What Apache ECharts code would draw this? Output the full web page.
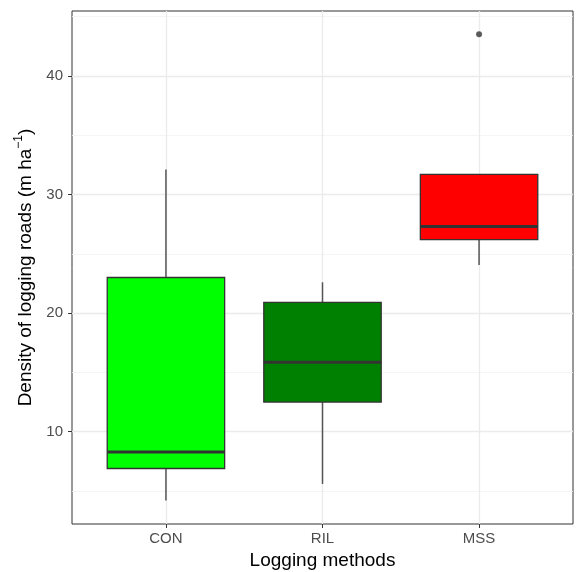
<!DOCTYPE html>
<html><head><meta charset="utf-8">
<script src="https://cdn.jsdelivr.net/npm/echarts@6/dist/echarts.min.js"></script>
<style>html,body{margin:0;padding:0;background:#fff}#c{width:581px;height:572px}</style>
</head><body><div id="c"></div>
<script>
const categories = ['CON', 'RIL', 'MSS'];
const fills = ['#00FF00', '#008000', '#FF0000'];
// [low whisker, Q1, median, Q3, high whisker]
const CON = [4.2, 6.9, 8.3, 23.0, 32.1];
const RIL = [5.6, 12.5, 15.85, 20.9, 22.6];
const MSS = [24.05, 26.2, 27.3, 31.7, 31.7];
const outliers = [[3, 43.5]];
const yMajorTicks = [10, 20, 30, 40];
const yMinorTicks = [5, 15, 25, 35, 45];
const xTicks = [1, 2, 3];

const boxes = [CON, RIL, MSS].map((b, i) => [i + 1].concat(b));
const font = 'Liberation Sans, Arial, sans-serif';

const chart = echarts.init(document.getElementById('c'));
const gridMarks = [];
yMinorTicks.forEach(v => gridMarks.push({yAxis: v, lineStyle: {color: '#F2F2F2', width: 0.8, type: 'solid'}}));
yMajorTicks.forEach(v => gridMarks.push({yAxis: v, lineStyle: {color: '#EBEBEB', width: 1.3, type: 'solid'}}));
xTicks.forEach(v => gridMarks.push({xAxis: v, lineStyle: {color: '#EBEBEB', width: 1.3, type: 'solid'}}));

chart.setOption({
  backgroundColor: '#fff',
  animation: false,
  grid: {left: 72, top: 11, right: 8, bottom: 48, outerBoundsMode: 'none', containLabel: false,
    show: true, borderColor: '#333', borderWidth: 1, backgroundColor: 'transparent'},
  xAxis: {
    type: 'value', min: 0.4, max: 3.6,
    name: 'Logging methods', nameLocation: 'middle', nameGap: 26,
    nameTextStyle: {fontFamily: font, fontSize: 19, color: '#000'},
    axisLine: {show: false},
    axisTick: {show: true, customValues: xTicks, length: 4, lineStyle: {color: '#333'}},
    axisLabel: {customValues: xTicks, formatter: v => categories[Math.round(v) - 1] || '', fontFamily: font, fontSize: 15, color: '#4D4D4D', margin: 7},
    splitLine: {show: false}
  },
  yAxis: {
    type: 'value', min: 2.22, max: 45.47,
    name: '{b|Density of logging roads (m ha}{sup|\u22121}{b|)}', nameLocation: 'middle', nameGap: 31,
    nameTextStyle: {fontFamily: font, fontSize: 19, color: '#000',
      rich: {
        b: {fontFamily: font, fontSize: 19, color: '#000', lineHeight: 27},
        sup: {fontFamily: font, fontSize: 12, color: '#000', lineHeight: 12, verticalAlign: 'top'}
      }},
    axisLine: {show: false},
    axisTick: {show: true, customValues: yMajorTicks, length: 4, lineStyle: {color: '#333'}},
    axisLabel: {customValues: yMajorTicks, fontFamily: font, fontSize: 15, color: '#4D4D4D', margin: 9},
    splitLine: {show: false}
  },
  series: [
    {
      type: 'line', data: [], z: 0, silent: true,
      markLine: {z: 0, zlevel: 0, silent: true, symbol: 'none', label: {show: false}, animation: false, data: gridMarks}
    },
    {
      type: 'custom', z: 2,
      data: boxes,
      encode: {x: 0, y: [1, 2, 3, 4, 5]},
      renderItem: function (params, api) {
        const x = api.value(0);
        const hw = api.size([0.75, 0])[0] / 2;
        const pL = api.coord([x, api.value(1)]);
        const p1 = api.coord([x, api.value(2)]);
        const pM = api.coord([x, api.value(3)]);
        const p3 = api.coord([x, api.value(4)]);
        const pH = api.coord([x, api.value(5)]);
        const fill = fills[params.dataIndex];
        return {
          type: 'group',
          children: [
            {type: 'line', shape: {x1: pH[0], y1: pH[1], x2: p3[0], y2: p3[1]}, style: {stroke: '#555', lineWidth: 1.5}},
            {type: 'line', shape: {x1: pL[0], y1: pL[1], x2: p1[0], y2: p1[1]}, style: {stroke: '#555', lineWidth: 1.5}},
            {type: 'rect', shape: {x: p3[0] - hw, y: p3[1], width: hw * 2, height: p1[1] - p3[1]}, style: {fill: fill, stroke: '#333', lineWidth: 1.3}},
            {type: 'line', shape: {x1: pM[0] - hw, y1: pM[1], x2: pM[0] + hw, y2: pM[1]}, style: {stroke: '#333', lineWidth: 3}}
          ]
        };
      }
    },
    {
      type: 'scatter', z: 3, data: outliers, symbol: 'circle', symbolSize: 6,
      itemStyle: {color: '#333'}
    }
  ]
});
</script></body></html>
